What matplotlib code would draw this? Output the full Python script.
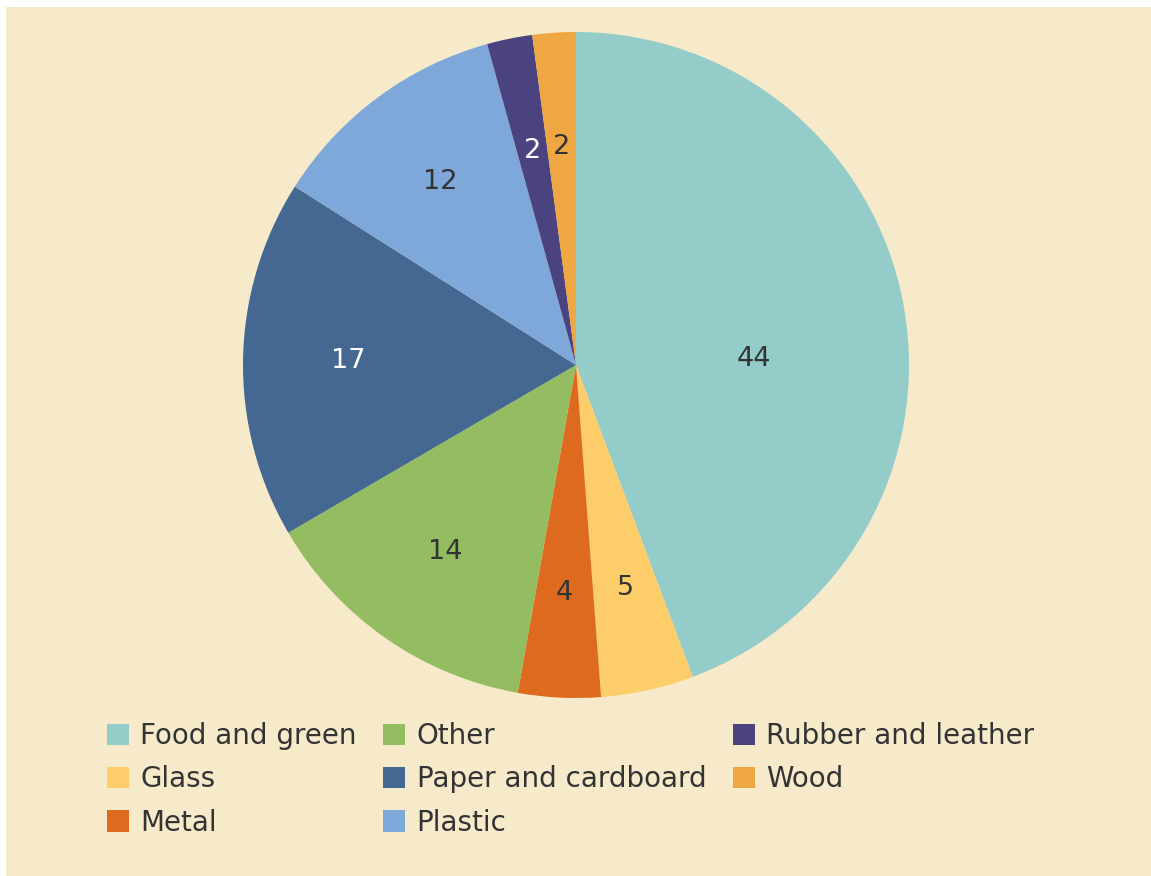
import matplotlib
matplotlib.use("Agg")
import matplotlib.pyplot as plt
import matplotlib.patches as mpatches
import numpy as np

# waste composition, percent (slice sizes, labels rounded)
categories = ["Food and green", "Glass", "Metal", "Other",
              "Paper and cardboard", "Plastic", "Rubber and leather", "Wood"]
shares = [44.3, 4.5, 4.0, 13.8, 17.4, 11.7, 2.2, 2.1]
labels = ["44", "5", "4", "14", "17", "12", "2", "2"]

colors = ["#93CCC8", "#FDCD69", "#DE6A1E", "#94BD62",
          "#446891", "#7FA8DA", "#4A4380", "#EFA744"]
label_colors = ["#333333", "#333333", "#333333", "#333333",
                "white", "#333333", "white", "#333333"]
bg = "#F6EACB"

W, H = 1151, 876
fig = plt.figure(figsize=(W / 100, H / 100), dpi=100)
fig.patch.set_facecolor("white")
fig.add_artist(mpatches.Rectangle((6 / W, 0), 1, (H - 7) / H,
                                  transform=fig.transFigure,
                                  facecolor=bg, edgecolor="none", zorder=-5))

cx, cy, r = 576, 365, 333
ax = fig.add_axes([(cx - r) / W, (H - cy - r) / H, 2 * r / W, 2 * r / H])
ax.set_facecolor("none")
ax.set_zorder(1)

wedges, texts = ax.pie(shares, colors=colors, startangle=90, counterclock=False,
                       radius=1, wedgeprops=dict(linewidth=0))
ax.set_xlim(-1, 1)
ax.set_ylim(-1, 1)
ax.set_aspect("equal")
ax.axis("off")

# labels at the middle of each wedge
for i, w in enumerate(wedges):
    ang = np.deg2rad((w.theta1 + w.theta2) / 2)
    dist = 0.685
    if shares[i] < 3:
        dist = 0.655
    if i == 0:
        # the big slice has its number pushed toward the centre line
        ang = np.deg2rad(2.0)
        dist = 0.535
    ax.text(dist * np.cos(ang), dist * np.sin(ang), labels[i],
            ha="center", va="center", fontsize=19.5, color=label_colors[i],
            family="DejaVu Sans")

handles = [mpatches.Patch(facecolor=c, edgecolor="none") for c in colors]
fig.legend(handles, categories, ncol=3, loc="upper left",
           bbox_to_anchor=(107 / W, 1 - 722 / H), frameon=False,
           handlelength=0.8, handleheight=0.8,
           handletextpad=0.4, columnspacing=0.95, labelspacing=0.55,
           borderpad=0, borderaxespad=0,
           prop=dict(family="DejaVu Sans", size=20))
for t in fig.legends[0].get_texts():
    t.set_color("#333333")

fig.savefig("out.png", dpi=100, facecolor=fig.get_facecolor())
